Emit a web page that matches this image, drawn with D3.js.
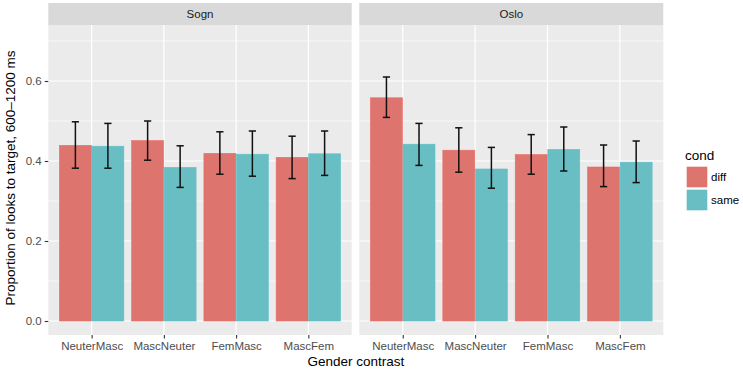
<!DOCTYPE html>
<html>
<head>
<meta charset="utf-8">
<script src="https://cdn.jsdelivr.net/npm/d3@7"></script>
<style>
  html, body { margin: 0; padding: 0; background: #fff; }
  svg { display: block; font-family: "Liberation Sans", Arial, Helvetica, sans-serif; }
</style>
</head>
<body>
<div id="chart"></div>
<script>
const categories = ["NeuterMasc", "MascNeuter", "FemMasc", "MascFem"];
const panels = ["Sogn", "Oslo"];
const conds = ["diff", "same"];
const condColors = ["#DD746E", "#69BEC4"];
const condEdges = ["#EC6B63", "#5EC0C7"];

// Sogn
const sognDiff      = [0.439, 0.451, 0.419, 0.409];
const sognDiffLow   = [0.382, 0.402, 0.367, 0.356];
const sognDiffHigh  = [0.498, 0.500, 0.473, 0.462];
const sognSame      = [0.437, 0.384, 0.417, 0.418];
const sognSameLow   = [0.382, 0.334, 0.362, 0.364];
const sognSameHigh  = [0.494, 0.438, 0.475, 0.475];
// Oslo
const osloDiff      = [0.558, 0.427, 0.416, 0.385];
const osloDiffLow   = [0.509, 0.372, 0.367, 0.336];
const osloDiffHigh  = [0.610, 0.483, 0.466, 0.440];
const osloSame      = [0.442, 0.380, 0.429, 0.397];
const osloSameLow   = [0.389, 0.332, 0.375, 0.346];
const osloSameHigh  = [0.494, 0.434, 0.485, 0.450];

const yMajor = [0.0, 0.2, 0.4, 0.6];
const yMajorLabels = ["0.0", "0.2", "0.4", "0.6"];
const yMinor = [0.1, 0.3, 0.5, 0.7];

const W = 743, H = 372;
const svg = d3.select("#chart").append("svg").attr("width", W).attr("height", H);

const panelX = [[48.3, 351.7], [359.3, 663.3]];
const stripTop = 3, panelTop = 25, panelBottom = 335;

const y = d3.scaleLinear().domain([-0.035, 0.74]).range([panelBottom, panelTop]);

const panelData = [
  { name: panels[0], vals: [sognDiff, sognSame], lo: [sognDiffLow, sognSameLow], hi: [sognDiffHigh, sognSameHigh] },
  { name: panels[1], vals: [osloDiff, osloSame], lo: [osloDiffLow, osloSameLow], hi: [osloDiffHigh, osloSameHigh] }
];

panelData.forEach((p, pi) => {
  const [x0, x1] = panelX[pi];
  const x = d3.scalePoint().domain(categories).range([x0, x1]).padding(0.6);
  const step = x.step();
  const bw = step * 0.45;
  const g = svg.append("g");

  // strip
  g.append("rect").attr("x", x0).attr("y", stripTop).attr("width", x1 - x0).attr("height", panelTop - stripTop).attr("fill", "#D9D9D9");
  g.append("text").attr("x", (x0 + x1) / 2).attr("y", (stripTop + panelTop) / 2).attr("dy", "0.35em")
    .attr("text-anchor", "middle").attr("font-size", "11.5px").attr("fill", "#1a1a1a").text(p.name);

  // panel bg
  g.append("rect").attr("x", x0).attr("y", panelTop).attr("width", x1 - x0).attr("height", panelBottom - panelTop).attr("fill", "#EBEBEB");

  // grid minor
  g.selectAll(".ymin").data(yMinor).join("line")
    .attr("x1", x0).attr("x2", x1).attr("y1", d => y(d)).attr("y2", d => y(d))
    .attr("stroke", "#fff").attr("stroke-width", 0.6);
  // grid major
  g.selectAll(".ymaj").data(yMajor).join("line")
    .attr("x1", x0).attr("x2", x1).attr("y1", d => y(d)).attr("y2", d => y(d))
    .attr("stroke", "#fff").attr("stroke-width", 1.2);
  g.selectAll(".xmaj").data(categories).join("line")
    .attr("x1", d => x(d)).attr("x2", d => x(d)).attr("y1", panelTop).attr("y2", panelBottom)
    .attr("stroke", "#fff").attr("stroke-width", 1.2);

  // bars
  conds.forEach((c, ci) => {
    g.selectAll(".bar" + ci).data(categories).join("rect")
      .attr("x", d => x(d) - bw + ci * bw + 0.3)
      .attr("width", bw - 0.6)
      .attr("y", (d, i) => y(p.vals[ci][i]))
      .attr("height", (d, i) => y(0) - y(p.vals[ci][i]))
      .attr("fill", condColors[ci])
      .attr("stroke", condEdges[ci]).attr("stroke-width", 0.6);
  });

  // error bars
  const ew = step * 0.1;
  conds.forEach((c, ci) => {
    categories.forEach((cat, i) => {
      const cx = x(cat) - bw / 2 + ci * bw;
      const yl = y(p.lo[ci][i]), yh = y(p.hi[ci][i]);
      const eg = g.append("g").attr("stroke", "#111").attr("stroke-width", 1.5);
      eg.append("line").attr("x1", cx).attr("x2", cx).attr("y1", yl).attr("y2", yh);
      eg.append("line").attr("x1", cx - ew / 2).attr("x2", cx + ew / 2).attr("y1", yl).attr("y2", yl);
      eg.append("line").attr("x1", cx - ew / 2).attr("x2", cx + ew / 2).attr("y1", yh).attr("y2", yh);
    });
  });

  // x axis
  const xa = g.append("g").attr("transform", `translate(0,${panelBottom})`)
    .call(d3.axisBottom(x).tickSize(3.6).tickPadding(3));
  xa.select(".domain").remove();
  xa.selectAll(".tick line").attr("stroke", "#333").attr("stroke-width", 1.1);
  xa.selectAll(".tick text").attr("font-size", "11.5px").attr("fill", "#4D4D4D")
    .attr("font-family", "Liberation Sans, Arial, sans-serif");
});

// y axis
const ya = svg.append("g").attr("transform", `translate(${panelX[0][0]},0)`)
  .call(d3.axisLeft(y).tickValues(yMajor).tickFormat((d, i) => yMajorLabels[i]).tickSize(3.6).tickPadding(3));
ya.select(".domain").remove();
ya.selectAll(".tick line").attr("stroke", "#333").attr("stroke-width", 1.1);
ya.selectAll(".tick text").attr("font-size", "11.5px").attr("fill", "#4D4D4D")
  .attr("font-family", "Liberation Sans, Arial, sans-serif");

// axis titles
svg.append("text").attr("x", (panelX[0][0] + panelX[1][1]) / 2).attr("y", 366)
  .attr("text-anchor", "middle").attr("font-size", "13.5px").attr("fill", "#000").text("Gender contrast");
svg.append("text").attr("transform", `translate(15,178) rotate(-90)`)
  .attr("text-anchor", "middle").attr("font-size", "13.5px").attr("fill", "#000")
  .text("Proportion of looks to target, 600–1200 ms");

// legend
const lg = svg.append("g");
lg.append("text").attr("x", 685).attr("y", 160).attr("font-size", "13.5px").attr("fill", "#000").text("cond");
conds.forEach((c, i) => {
  lg.append("rect").attr("x", 687).attr("y", 167 + i * 23).attr("width", 20).attr("height", 20)
    .attr("fill", condColors[i]).attr("stroke", condEdges[i]).attr("stroke-width", 0.6);
  lg.append("text").attr("x", 711).attr("y", 177 + i * 23).attr("dy", "0.35em")
    .attr("font-size", "11.5px").attr("fill", "#000").text(c);
});
</script>
</body>
</html>
